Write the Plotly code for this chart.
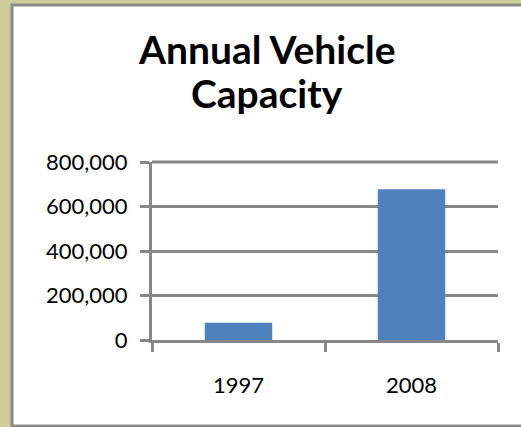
import plotly.graph_objects as go

years = ["1997", "2008"]
capacity = [78000, 678000]
title_lines = ["Annual Vehicle", "Capacity"]
y_ticks = [0, 200000, 400000, 600000, 800000]

W, H = 521, 427
L, R, T, B = 152, 23, 162, 87
pw, ph = W - L - R, H - T - B

def px_x(x):
    return (x - L) / pw

def px_y(y):
    return (H - B - y) / ph

fig = go.Figure(go.Bar(x=years, y=capacity, marker=dict(color="#4F81BD", line=dict(width=0)),
                       hoverinfo="skip"))

fig.add_shape(type="rect", xref="paper", yref="paper",
              x0=px_x(12), x1=px_x(530), y0=px_y(426), y1=px_y(5),
              fillcolor="white", line=dict(color="#8a8a8a", width=3), layer="below")

axis_col = "#878787"
# top gridline at the top of the y range (plotly hides the grid line at the range edge)
fig.add_shape(type="line", xref="paper", yref="paper", x0=0, x1=1,
              y0=1, y1=1, line=dict(color=axis_col, width=3), layer="below")

for txt, yy in zip(title_lines, [49, 93]):
    fig.add_annotation(text=txt, xref="paper", yref="paper", x=px_x(266.5), y=px_y(yy),
                       xanchor="center", yanchor="middle", showarrow=False,
                       font=dict(family="Lato", size=39, color="black", weight="bold"))

fig.update_layout(
    width=W, height=H, margin=dict(l=L, r=R, t=T, b=B, pad=0),
    paper_bgcolor="#cdcd9b", plot_bgcolor="white",
    bargap=0.61, showlegend=False,
    font=dict(family="Lato", size=22, color="black"),
)
fig.update_yaxes(range=[0, y_ticks[-1]], tickvals=y_ticks, tickformat=",",
                 showgrid=True, gridcolor=axis_col, gridwidth=3,
                 showline=True, linecolor=axis_col, linewidth=3,
                 ticks="outside", ticklen=9, tickwidth=3, tickcolor=axis_col,
                 zeroline=False, ticklabelstandoff=8)
fig.update_xaxes(showgrid=False, showline=True, linecolor=axis_col, linewidth=3,
                 ticks="outside", tickson="boundaries", ticklen=9, tickwidth=3,
                 tickcolor=axis_col, ticklabelstandoff=24)

fig.write_html("out.html", config={"displayModeBar": False},
               post_script="document.body.style.margin='0';document.body.style.overflow='hidden';")
